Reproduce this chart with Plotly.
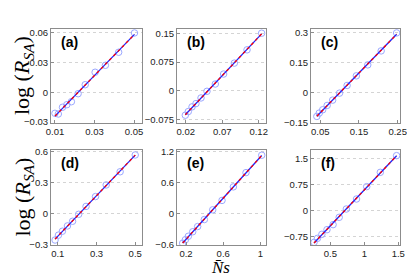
import numpy as np
import plotly.graph_objects as go
from plotly.subplots import make_subplots

W, H = 415, 276

# ---- data ----
a_x = [0.0100, 0.0117, 0.0138, 0.0160, 0.0183, 0.0217, 0.0253, 0.0303, 0.0355, 0.0422, 0.0502]
a_y = [-0.0212, -0.0219, -0.0151, -0.0125, -0.0095, -0.0014, 0.0077, 0.0203, 0.0273, 0.0405, 0.0600]
b_x = [0.0194, 0.0235, 0.0286, 0.0340, 0.0409, 0.0491, 0.0605, 0.0719, 0.0866, 0.1040, 0.1240]
b_y = [-0.0637, -0.0542, -0.0420, -0.0334, -0.0187, -0.0014, 0.0176, 0.0436, 0.0721, 0.1067, 0.1500]
c_x = [0.0411, 0.0473, 0.0562, 0.0678, 0.0820, 0.0998, 0.1193, 0.1433, 0.1727, 0.2073, 0.2473]
c_y = [-0.120, -0.1033, -0.0867, -0.065, -0.0383, -0.0033, 0.035, 0.0833, 0.1383, 0.2083, 0.2983]
d_x = [0.086, 0.1035, 0.124, 0.150, 0.1765, 0.208, 0.246, 0.295, 0.350, 0.422, 0.500]
d_y = [-0.252, -0.205, -0.167, -0.116, -0.071, -0.004, 0.072, 0.167, 0.279, 0.406, 0.568]
e_x = [0.164, 0.193, 0.225, 0.272, 0.325, 0.397, 0.487, 0.587, 0.709, 0.845, 1.014]
e_y = [-0.579, -0.512, -0.444, -0.356, -0.255, -0.119, 0.070, 0.253, 0.517, 0.794, 1.132]
f_x = [0.26, 0.31, 0.375, 0.45, 0.54, 0.63, 0.735, 0.885, 1.035, 1.235, 1.475]
f_y = [-0.923, -0.808, -0.692, -0.558, -0.413, -0.202, 0.038, 0.327, 0.683, 1.096, 1.577]

panel_labels = ["(a)", "(b)", "(c)", "(d)", "(e)", "(f)"]
x_ticks = [[0.01, 0.03, 0.05], [0.02, 0.07, 0.12], [0.05, 0.15, 0.25],
           [0.1, 0.3, 0.5], [0.2, 0.6, 1], [0.5, 1, 1.5]]
x_ticktext = [["0.01", "0.03", "0.05"], ["0.02", "0.07", "0.12"], ["0.05", "0.15", "0.25"],
              ["0.1", "0.3", "0.5"], ["0.2", "0.6", "1"], ["0.5", "1", "1.5"]]
y_ticks = [[-0.03, 0, 0.03, 0.06], [-0.075, 0, 0.075, 0.15], [-0.15, 0, 0.15, 0.3],
           [-0.3, 0, 0.3, 0.6], [-0.6, 0, 0.6, 1.2], [-0.75, 0, 0.75, 1.5]]
y_ticktext = [["\u22120.03", "0", "0.03", "0.06"], ["\u22120.075", "0", "0.075", "0.15"],
              ["\u22120.15", "0", "0.15", "0.3"], ["\u22120.3", "0", "0.3", "0.6"],
              ["\u22120.6", "0", "0.6", "1.2"], ["\u22120.75", "0", "0.75", "1.5"]]
x_ranges = [[0.008, 0.054], [0.008, 0.130], [0.026, 0.256],
            [0.065, 0.535], [0.103, 1.06], [0.215, 1.525]]
y_ranges = [[-0.031, 0.064], [-0.084, 0.161], [-0.153, 0.318],
            [-0.30, 0.616], [-0.614, 1.234], [-1.0, 1.74]]

series = [(a_x, a_y), (b_x, b_y), (c_x, c_y), (d_x, d_y), (e_x, e_y), (f_x, f_y)]

# ---- layout geometry (pixels) ----
cols_px = [(43, 134), (169, 258), (303, 392)]
rows_px = [(21, 115), (142, 237)]

fig = make_subplots(rows=2, cols=3)

frame = "#8c8c8c"
tickfont = dict(family="Liberation Sans, Arial, sans-serif", size=9.5, color="#222")

for i, (xs, ys) in enumerate(series):
    r, c = divmod(i, 3)
    xs = np.array(xs); ys = np.array(ys)
    k, b0 = np.polyfit(xs, ys, 1)
    lx = np.array([xs.min(), xs.max()])
    ly = k * lx + b0
    fig.add_trace(go.Scatter(x=xs, y=ys, mode="markers",
                             marker=dict(symbol="circle-open", size=6.5,
                                         color="rgb(155,168,255)", line=dict(width=1)),
                             showlegend=False), row=r + 1, col=c + 1)
    fig.add_trace(go.Scatter(x=lx, y=ly, mode="lines",
                             line=dict(color="rgb(30,40,255)", width=1.3),
                             showlegend=False), row=r + 1, col=c + 1)
    fig.add_trace(go.Scatter(x=lx, y=ly, mode="lines",
                             line=dict(color="red", width=1.3, dash="3px,3px"),
                             showlegend=False), row=r + 1, col=c + 1)

    l, rr = cols_px[c]
    t, bt = rows_px[r]
    fig.update_xaxes(domain=[l / W, rr / W], range=x_ranges[i], tickvals=x_ticks[i],
                     ticktext=x_ticktext[i], showline=True, linecolor=frame, linewidth=1,
                     mirror=True, ticks="inside", ticklen=3, tickcolor=frame,
                     showgrid=False, zeroline=False, tickfont=tickfont,
                     automargin=False, row=r + 1, col=c + 1)
    fig.update_yaxes(domain=[1 - bt / H, 1 - t / H], range=y_ranges[i], tickvals=y_ticks[i],
                     ticktext=y_ticktext[i], showline=True, linecolor=frame, linewidth=1,
                     mirror=True, ticks="inside", ticklen=3, tickcolor=frame,
                     showgrid=True, gridcolor="#d4d4d4", griddash="dot", gridwidth=1,
                     zeroline=False, tickfont=tickfont,
                     automargin=False, row=r + 1, col=c + 1)
    fig.add_annotation(text="<b>" + panel_labels[i] + "</b>", xref="paper", yref="paper",
                       x=(l + 8) / W, y=1 - (t + 13) / H, xanchor="left", yanchor="middle",
                       showarrow=False,
                       font=dict(family="Liberation Sans, Arial, sans-serif", size=14, color="black"))

ylabel = "log (<i>R</i><sub><i>SA</i></sub>)"
for (t, bt) in rows_px:
    fig.add_annotation(text=ylabel, xref="paper", yref="paper", x=15 / W,
                       y=1 - (t + bt) / 2 / H, textangle=-90, showarrow=False,
                       xanchor="center", yanchor="middle",
                       font=dict(family="Liberation Serif, serif", size=22, color="black"))
fig.add_annotation(text="<i>N\u0304s</i>", xref="paper", yref="paper", x=213 / W,
                   y=1 - 259.5 / H, showarrow=False, xanchor="center", yanchor="middle",
                   borderpad=0,
                   font=dict(family="Liberation Serif, serif", size=17, color="black"))

fig.update_layout(width=W, height=H, margin=dict(l=0, r=0, t=0, b=0),
                  paper_bgcolor="white", plot_bgcolor="white", showlegend=False)

fig.write_html("out.html")
